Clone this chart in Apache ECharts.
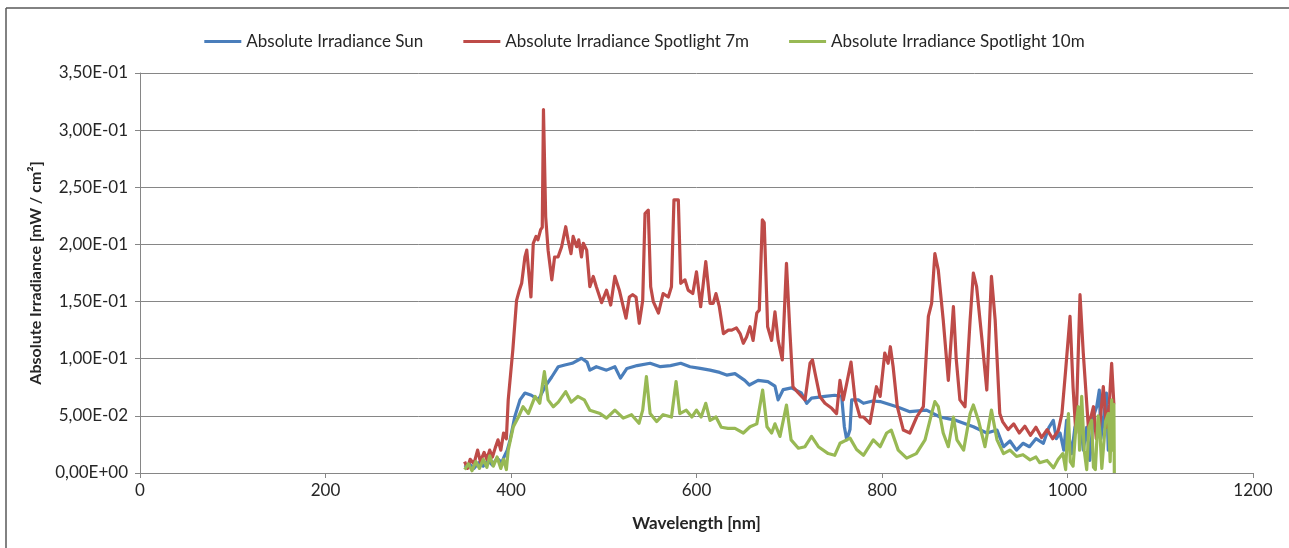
<!DOCTYPE html>
<html>
<head>
<meta charset="utf-8">
<script src="https://cdn.jsdelivr.net/npm/echarts@6/dist/echarts.min.js"></script>
<style>
  html, body { margin: 0; padding: 0; background: #fff; overflow: hidden; }
  #chart { width: 1289px; height: 548px; }
</style>
</head>
<body>
<div id="chart"></div>
<script>
// wavelength [nm] / irradiance [mW/cm²]
const sunNm = [350, 355, 360, 365, 370, 375, 380, 385, 390, 393, 396, 399, 404, 409.7, 415, 422, 429.5, 436.7, 443.9, 451, 458, 466, 476, 482, 485, 492, 503, 512, 518, 525, 536, 550, 561, 572, 583, 593, 604, 614.6, 625, 632.5, 641.5, 652, 657, 666.4, 677, 684.6, 688, 693.5, 702.5, 713, 718.8, 724, 738.5, 749, 756.5, 759.4, 762, 765.5, 767.3, 774.5, 780, 790, 798, 816, 830, 848, 862.5, 880, 898.5, 913, 924, 931, 938, 945, 952, 959, 966, 974, 980, 984.7, 988, 992, 996, 999, 1002, 1004.5, 1008, 1013.5, 1017, 1020.7, 1024, 1028, 1031.5, 1034.3, 1036, 1038.6, 1042, 1044, 1046, 1049];
const sunVal = [0.005, 0.008, 0.004, 0.009, 0.006, 0.011, 0.007, 0.013, 0.009, 0.015, 0.02, 0.029, 0.049, 0.064, 0.070, 0.068, 0.064, 0.0755, 0.084, 0.093, 0.0945, 0.096, 0.1004, 0.097, 0.090, 0.093, 0.090, 0.093, 0.083, 0.0915, 0.094, 0.096, 0.093, 0.094, 0.096, 0.093, 0.0915, 0.090, 0.088, 0.0857, 0.087, 0.081, 0.077, 0.081, 0.080, 0.076, 0.064, 0.073, 0.0745, 0.070, 0.061, 0.0655, 0.067, 0.068, 0.067, 0.0405, 0.029, 0.038, 0.064, 0.064, 0.061, 0.063, 0.0625, 0.058, 0.0537, 0.055, 0.049, 0.046, 0.0405, 0.035, 0.0376, 0.023, 0.028, 0.020, 0.026, 0.023, 0.030, 0.026, 0.040, 0.046, 0.030, 0.035, 0.020, 0.046, 0.030, 0.017, 0.040, 0.052, 0.020, 0.040, 0.011, 0.050, 0.058, 0.0726, 0.030, 0.046, 0.070, 0.020, 0.035, 0.060];

const spot7Nm = [350, 353, 356, 360, 364, 367, 371, 374, 377, 380, 383, 386, 389, 392, 395, 397, 402, 406, 409, 411.5, 415, 417, 421.5, 424, 427, 429, 432, 433.7, 435, 437.4, 440, 444, 447, 450.7, 454.6, 459, 461.5, 464.7, 467, 470.8, 473, 476, 478, 481.6, 485, 488.7, 492, 497.7, 503, 507.5, 512, 516.8, 521, 524, 527.6, 531, 534.8, 538.3, 542, 544.5, 548, 550.6, 553.4, 559, 564, 569.6, 573, 575.7, 580.4, 583, 587.6, 591, 596, 600, 604.5, 610, 614.6, 618, 621, 624.6, 629, 634.3, 638, 643, 647, 650.5, 654, 657.7, 661, 665, 667.7, 671, 673, 676.7, 681, 684.6, 688, 692.5, 697, 700.8, 704, 709.8, 717, 722.4, 725, 727.8, 733, 738.5, 745.8, 751, 754.7, 758.3, 762, 766.6, 771, 776.3, 780, 787, 794, 798, 803, 806.6, 809, 812, 816.5, 823, 830, 837.4, 844.6, 850, 853.5, 857, 860.7, 866, 871.5, 877, 880, 884, 889.5, 895, 898.5, 902, 907.5, 913, 918, 922, 927, 930, 936, 942, 948, 954, 960, 966, 972, 978, 984, 990, 994, 998, 1002.7, 1006, 1009, 1013.5, 1017, 1022.5, 1028, 1031, 1034, 1038.6, 1042, 1045, 1047.6, 1050];
const spot7Val = [0.010, 0.004, 0.012, 0.008, 0.020, 0.010, 0.018, 0.012, 0.020, 0.014, 0.022, 0.029, 0.020, 0.035, 0.030, 0.064, 0.108, 0.151, 0.160, 0.166, 0.189, 0.195, 0.154, 0.201, 0.207, 0.204, 0.213, 0.215, 0.318, 0.224, 0.195, 0.169, 0.189, 0.189, 0.198, 0.2155, 0.204, 0.192, 0.207, 0.198, 0.204, 0.189, 0.201, 0.195, 0.163, 0.172, 0.163, 0.149, 0.160, 0.147, 0.172, 0.160, 0.1455, 0.1355, 0.154, 0.156, 0.154, 0.131, 0.151, 0.227, 0.230, 0.163, 0.150, 0.140, 0.157, 0.154, 0.163, 0.239, 0.239, 0.166, 0.169, 0.160, 0.157, 0.176, 0.1455, 0.185, 0.1485, 0.1485, 0.157, 0.1455, 0.122, 0.125, 0.125, 0.127, 0.122, 0.1135, 0.119, 0.128, 0.116, 0.140, 0.1425, 0.2215, 0.219, 0.128, 0.116, 0.141, 0.116, 0.099, 0.1835, 0.122, 0.0755, 0.070, 0.064, 0.096, 0.099, 0.0875, 0.067, 0.061, 0.0566, 0.052, 0.081, 0.064, 0.0785, 0.097, 0.064, 0.049, 0.049, 0.0435, 0.0755, 0.067, 0.105, 0.096, 0.1105, 0.093, 0.058, 0.0376, 0.035, 0.049, 0.058, 0.137, 0.1485, 0.192, 0.1775, 0.134, 0.081, 0.1455, 0.100, 0.064, 0.058, 0.134, 0.175, 0.163, 0.119, 0.0726, 0.172, 0.134, 0.052, 0.045, 0.038, 0.043, 0.035, 0.041, 0.033, 0.040, 0.031, 0.038, 0.030, 0.037, 0.052, 0.090, 0.137, 0.075, 0.035, 0.156, 0.105, 0.040, 0.058, 0.030, 0.035, 0.0755, 0.040, 0.060, 0.096, 0.060];

const spot10Nm = [350, 354, 358, 362, 366, 370, 374, 377, 381, 385, 389, 392, 395, 397, 402.5, 408, 413, 418.7, 426, 431, 436, 440, 445.6, 451, 459, 465, 472, 479, 485, 496, 503, 512, 521, 530, 538, 542, 546, 550, 557, 564, 573, 578, 582, 589, 595, 600, 605, 610, 614.6, 621, 626.7, 634, 641.5, 650.5, 657.7, 665, 671.3, 676, 681, 684.6, 690, 697, 702, 709.8, 717, 724, 731.4, 742, 749, 754.7, 762, 765.5, 772.6, 780, 790.6, 798, 805, 810, 817.5, 826.6, 837, 846.4, 853.5, 857, 860.7, 866, 871.5, 877, 880.8, 888, 895, 898.5, 904, 911, 918, 924, 931, 938, 945, 952, 959.6, 966, 970, 978, 985, 990, 995, 998, 1001, 1003, 1006, 1009, 1011.7, 1013, 1015.3, 1018, 1020.7, 1023, 1026, 1028, 1030, 1033, 1035, 1037, 1038.6, 1041, 1044, 1046, 1047.6, 1049, 1050, 1050.5];
const spot10Val = [0.003, 0.008, 0.002, 0.010, 0.004, 0.012, 0.005, 0.015, 0.006, 0.014, 0.004, 0.012, 0.003, 0.020, 0.0405, 0.049, 0.058, 0.052, 0.067, 0.061, 0.0887, 0.064, 0.058, 0.062, 0.0712, 0.062, 0.067, 0.064, 0.055, 0.052, 0.048, 0.055, 0.048, 0.051, 0.0435, 0.055, 0.0843, 0.052, 0.045, 0.051, 0.049, 0.080, 0.052, 0.055, 0.049, 0.055, 0.049, 0.061, 0.046, 0.049, 0.040, 0.039, 0.039, 0.035, 0.0405, 0.043, 0.0726, 0.0405, 0.035, 0.043, 0.032, 0.0595, 0.029, 0.0217, 0.023, 0.032, 0.023, 0.017, 0.0155, 0.026, 0.029, 0.0305, 0.0205, 0.0155, 0.029, 0.023, 0.035, 0.0375, 0.020, 0.013, 0.017, 0.029, 0.052, 0.0625, 0.058, 0.035, 0.023, 0.049, 0.029, 0.020, 0.052, 0.0595, 0.046, 0.023, 0.055, 0.029, 0.017, 0.020, 0.0145, 0.016, 0.0115, 0.014, 0.009, 0.011, 0.0045, 0.012, 0.017, 0.003, 0.052, 0.010, 0.006, 0.040, 0.058, 0.020, 0.067, 0.020, 0.003, 0.040, 0.046, 0.005, 0.003, 0.050, 0.035, 0.004, 0.003, 0.045, 0.052, 0.010, 0.064, 0.020, 0.060, 0.000];

const seriesNames = ['Absolute Irradiance Sun', 'Absolute Irradiance Spotlight 7m', 'Absolute Irradiance Spotlight 10m'];
const seriesColors = ['#4a7ebb', '#be4b48', '#98b954'];

function pairs(xs, ys) {
    return xs.map((x, i) => [x, ys[i]]);
}

// 0.35 -> "3,50E-01"
function sciLabel(v) {
    if (v === 0) return '0,00E+00';
    let exp = Math.floor(Math.log10(v) + 1e-9);
    let mant = v / Math.pow(10, exp);
    let sign = exp < 0 ? '-' : '+';
    let e = Math.abs(exp).toString().padStart(2, '0');
    return mant.toFixed(2).replace('.', ',') + 'E' + sign + e;
}

const myChart = echarts.init(document.getElementById('chart'));
const font = 'Lato, "Open Sans", sans-serif';
const axisColor = '#868686';
const textColor = '#262626';

const option = {
    animation: false,
    textStyle: { fontFamily: font },
    graphic: [
        {
            type: 'line',
            shape: { x1: 6, y1: 8, x2: 1289, y2: 8 },
            style: { stroke: '#595959', lineWidth: 1.5 },
            silent: true
        },
        {
            type: 'line',
            shape: { x1: 6, y1: 8, x2: 6, y2: 548 },
            style: { stroke: '#595959', lineWidth: 1.5 },
            silent: true
        }
    ],
    legend: {
        top: 28,
        left: 'center',
        icon: 'rect',
        itemWidth: 37,
        itemHeight: 3,
        itemGap: 40,
        textStyle: { color: textColor, fontSize: 17, fontFamily: font },
        data: seriesNames
    },
    grid: {
        left: 140,
        right: 36,
        top: 73,
        bottom: 75
    },
    xAxis: {
        type: 'value',
        min: 0,
        max: 1200,
        interval: 200,
        name: 'Wavelength [nm]',
        nameLocation: 'middle',
        nameGap: 42,
        nameTextStyle: { color: textColor, fontSize: 17, fontWeight: 'bold', fontFamily: font },
        axisLine: { show: true, lineStyle: { color: axisColor, width: 1 } },
        axisTick: { show: true, length: 5, lineStyle: { color: axisColor } },
        axisLabel: { color: textColor, fontSize: 17, margin: 9, fontFamily: font, formatter: v => String(v) },
        splitLine: { show: false }
    },
    yAxis: {
        type: 'value',
        min: 0,
        max: 0.35,
        interval: 0.05,
        name: 'Absolute Irradiance [mW / cm²]',
        nameLocation: 'middle',
        nameGap: 92,
        nameTextStyle: { color: textColor, fontSize: 16, fontWeight: 'bold', fontFamily: font },
        axisLine: { show: true, lineStyle: { color: axisColor, width: 1 } },
        axisTick: { show: true, length: 5, lineStyle: { color: axisColor } },
        axisLabel: { color: textColor, fontSize: 17, margin: 12, formatter: sciLabel, fontFamily: font },
        splitLine: { show: true, lineStyle: { color: axisColor, width: 1 } }
    },
    series: [
        { name: seriesNames[0], data: pairs(sunNm, sunVal) },
        { name: seriesNames[1], data: pairs(spot7Nm, spot7Val) },
        { name: seriesNames[2], data: pairs(spot10Nm, spot10Val) }
    ].map((s, i) => ({
        name: s.name,
        type: 'line',
        data: s.data,
        symbol: 'none',
        lineStyle: { color: seriesColors[i], width: 3.2, join: 'round' },
        itemStyle: { color: seriesColors[i] }
    }))
};

myChart.setOption(option);
</script>
</body>
</html>
